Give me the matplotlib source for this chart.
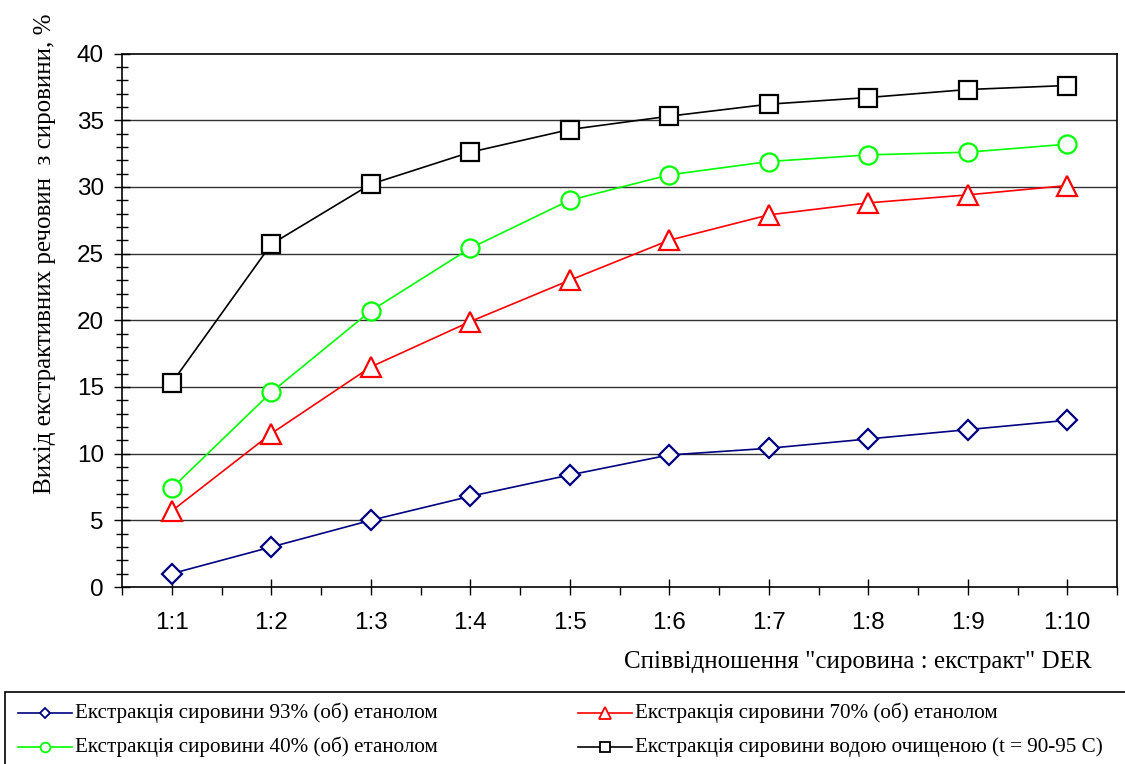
import matplotlib
matplotlib.use("Agg")
import matplotlib.pyplot as plt
from matplotlib.ticker import MultipleLocator, FixedLocator
from matplotlib.lines import Line2D

categories = ["1:1", "1:2", "1:3", "1:4", "1:5", "1:6", "1:7", "1:8", "1:9", "1:10"]
eth93 = [1.0, 3.0, 5.0, 6.8, 8.4, 9.9, 10.4, 11.1, 11.8, 12.5]
eth70 = [5.7, 11.5, 16.5, 19.9, 23.0, 26.0, 27.9, 28.8, 29.4, 30.1]
eth40 = [7.4, 14.6, 20.7, 25.4, 29.0, 30.9, 31.9, 32.4, 32.6, 33.2]
water = [15.3, 25.7, 30.2, 32.6, 34.3, 35.3, 36.2, 36.7, 37.3, 37.6]

labels = ["Екстракція сировини 93% (об) етанолом",
          "Екстракція сировини 70% (об) етанолом",
          "Екстракція сировини 40% (об) етанолом",
          "Екстракція сировини водою очищеною (t = 90-95 C)"]

W, H = 1125, 764
fig = plt.figure(figsize=(W / 100, H / 100), dpi=100)
ax = fig.add_axes([122 / W, 1 - 587 / H, (1117 - 122) / W, (587 - 53.5) / H])

x = [i + 0.5 for i in range(len(categories))]
lw = 1.2
mew = 1.6
h1, = ax.plot(x, eth93, color="#000080", lw=lw, marker="D", ms=10, mfc="white", mec="#000080", mew=mew, zorder=3)
h2, = ax.plot(x, eth70, color="#FF0000", lw=lw, marker="^", ms=14, mfc="white", mec="#FF0000", mew=mew, zorder=3)
h3, = ax.plot(x, eth40, color="#00FF00", lw=lw, marker="o", ms=13, mfc="white", mec="#00FF00", mew=mew, zorder=3)
h4, = ax.plot(x, water, color="black", lw=lw, marker="s", ms=12.5, mfc="white", mec="black", mew=mew, zorder=3)

ax.set_xlim(0, len(categories))
ax.set_ylim(0, 40)
ax.yaxis.set_major_locator(MultipleLocator(5))
ax.yaxis.set_minor_locator(MultipleLocator(1))
ax.set_xticks(x)
ax.set_xticklabels(categories)
ax.xaxis.set_minor_locator(FixedLocator(list(range(len(categories) + 1))))

for y in range(5, 40, 5):
    ax.axhline(y, color="#333333", lw=1.0, zorder=1)

for s in ax.spines.values():
    s.set_linewidth(1.2)
    s.set_color("black")

ax.tick_params(axis="y", which="major", direction="inout", length=12, width=1, pad=7, labelsize=17.5)
ax.tick_params(axis="y", which="minor", direction="inout", length=8, width=1)
ax.tick_params(axis="x", which="major", direction="inout", length=12, width=1, pad=12, labelsize=17.5)
ax.tick_params(axis="x", which="minor", direction="out", length=6, width=1)
for lab in ax.get_xticklabels() + ax.get_yticklabels():
    lab.set_family("Liberation Sans")

fig.text(1092 / W, 1 - 662 / H, 'Співвідношення "сировина : екстракт" DER',
         ha="right", va="center", family="Liberation Serif", size=18)
fig.text(45 / W, 1 - 494 / H, "Вихід екстрактивних речовин  з сировини, %",
         ha="center", va="bottom", rotation=90, family="Liberation Serif", size=18)

# legend box
fig.patches.append(plt.Rectangle((5 / W, -0.05), 1.2, (1 - 692 / H) + 0.05,
                                 transform=fig.transFigure, fill=False, ec="black", lw=1.2))
handles = [h1, h2, h3, h4]
leg_ms = [5, 8, 7, 7]
rows = [713, 747]
cols = [18, 578]
for i, (h, lab) in enumerate(zip(handles, labels)):
    r, c = divmod(i, 2)
    yy = 1 - rows[r] / H
    x0 = cols[c] / W
    x1 = (cols[c] + 54) / W
    fig.add_artist(Line2D([x0, x1], [yy, yy], transform=fig.transFigure,
                          color=h.get_color(), lw=lw))
    fig.add_artist(Line2D([(x0 + x1) / 2], [yy], transform=fig.transFigure,
                          marker=h.get_marker(), ms=leg_ms[i],
                          mfc="white", mec=h.get_mec(), mew=1.3, ls="none"))
    fig.text((cols[c] + 57) / W, yy, lab, ha="left", va="center",
             family="Liberation Serif", size=15.2)

fig.savefig("out.png", dpi=100)
